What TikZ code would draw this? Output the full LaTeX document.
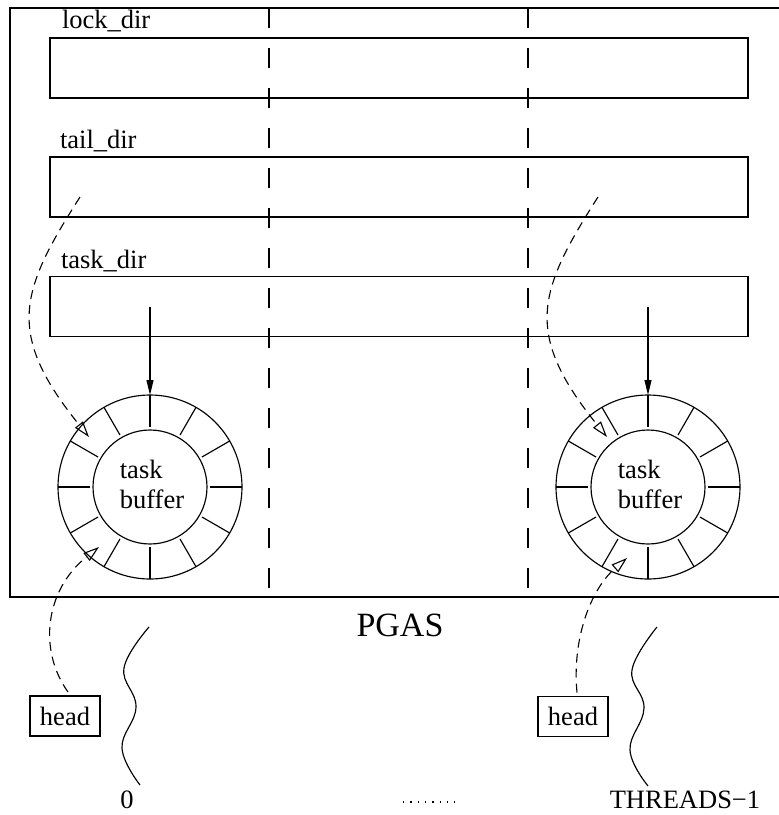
\documentclass[tikz,border=0pt]{standalone}
\usepackage{fontspec}
\setmainfont{Liberation Serif}
\usetikzlibrary{arrows.meta,calc}
\begin{document}
\begin{tikzpicture}[x=1pt,y=-1pt,
  every node/.style={inner sep=0pt, outer sep=0pt},
  ln/.style={line width=1.15pt},
  txt/.style={font=\fontsize{26.5}{30}\selectfont},
  dirbox/.style={draw, line width=1.15pt, minimum width=698pt, minimum height=60pt},
  lbl/.style={txt, anchor=base west},
  ring/.style={draw, circle, line width=1.15pt, minimum size=184pt},
  core/.style={draw, circle, line width=1.15pt, minimum size=114pt},
  bufftext/.style={txt, align=left},
  headbox/.style={txt, draw, line width=1.15pt, minimum width=70pt, minimum height=40pt},
  divider/.style={line width=1.1pt, dash pattern=on 20pt off 20pt},
  dcurve/.style={line width=1.1pt, dash pattern=on 9pt off 6pt, -{Triangle[open,length=16pt,width=10pt]}},
  downarrow/.style={line width=1.15pt, -{Triangle[length=15pt,width=7pt]}},
]
\useasboundingbox (0,0) rectangle (779,815);
% PGAS frame
\draw[ln] (10,8) rectangle (800,597);
% directories
\node[dirbox] (lock) at (399,68) {};
\node[dirbox] (tail) at (399,187) {};
\node[dirbox] (task) at (399,306.5) {};
\node[lbl] (lockl) at (62,28) {lock\_dir};
\node[lbl] (taill) at (60,148) {tail\_dir};
\node[lbl] (taskl) at (61,268) {task\_dir};
% dividers
\coordinate (v1t) at (269,8); \coordinate (v1b) at (269,597);
\coordinate (v2t) at (528,8); \coordinate (v2b) at (528,597);
\draw[divider] (v1t) -- (v1b);
\draw[divider] (v2t) -- (v2b);
% task buffers
\node[ring] (r1) at (150,487) {};
\node[core] (c1) at (150,487) {};
\node[bufftext] (bt1) at (152,484) {task\\buffer};
\node[ring] (r2) at (648,487) {};
\node[core] (c2) at (648,487) {};
\node[bufftext] (bt2) at (650,484) {task\\buffer};
\foreach \a in {0,30,...,330} {
  \draw[ln] ([shift={(\a:60)}]r1.center) -- ([shift={(\a:92)}]r1.center);
  \draw[ln] ([shift={(\a:60)}]r2.center) -- ([shift={(\a:92)}]r2.center);
}
% task_dir pointers
\coordinate (a1s) at (150,307);
\coordinate (a2s) at (648,307);
\draw[downarrow] (a1s) -- (r1.north);
\draw[downarrow] (a2s) -- (r2.north);
% tail_dir pointers
\coordinate (t1s) at (80,197); \coordinate (t1e) at (89,437);
\coordinate (t2s) at (598,197); \coordinate (t2e) at (607,437);
\draw[dcurve] (t1s) .. controls (20,291) and (5,333) .. (t1e);
\draw[dcurve] (t2s) .. controls (538,291) and (523,333) .. (t2e);
% PGAS label
\node[anchor=base, font=\fontsize{34}{40}\selectfont] (pgas) at (400,636) {PGAS};
% head boxes
\node[headbox] (head1) at (65,716) {head};
\node[headbox] (head2) at (573,716.5) {head};
\coordinate (h1s) at ([xshift=3pt,yshift=4pt]head1.north);
\coordinate (h2s) at ([xshift=4pt,yshift=4pt]head2.north);
\coordinate (h1e) at (99,547);
\coordinate (h2e) at (627,558);
\draw[dcurve] (h1s) .. controls (38,650) and (45,590) .. (h1e);
\draw[dcurve] (h2s) .. controls (572,640) and (590,590) .. (h2e);
% threads
\draw[ln] plot[smooth, tension=0.7] coordinates {(149,627) (124,668) (136,707) (122,748) (140,785)};
\draw[ln] plot[smooth, tension=0.7] coordinates {(657,627) (632,670) (644,708) (630,750) (648,786)};
\node[txt, anchor=base] (zero) at (127,808) {0};
\node[txt, anchor=base] (thr) at (685,808) {THREADS−1};
\coordinate (d1) at (403,802); \coordinate (d2) at (455,802);
\draw[line width=1.3pt, dash pattern=on 1.3pt off 6pt] (d1) -- (d2);
\end{tikzpicture}
\end{document}
